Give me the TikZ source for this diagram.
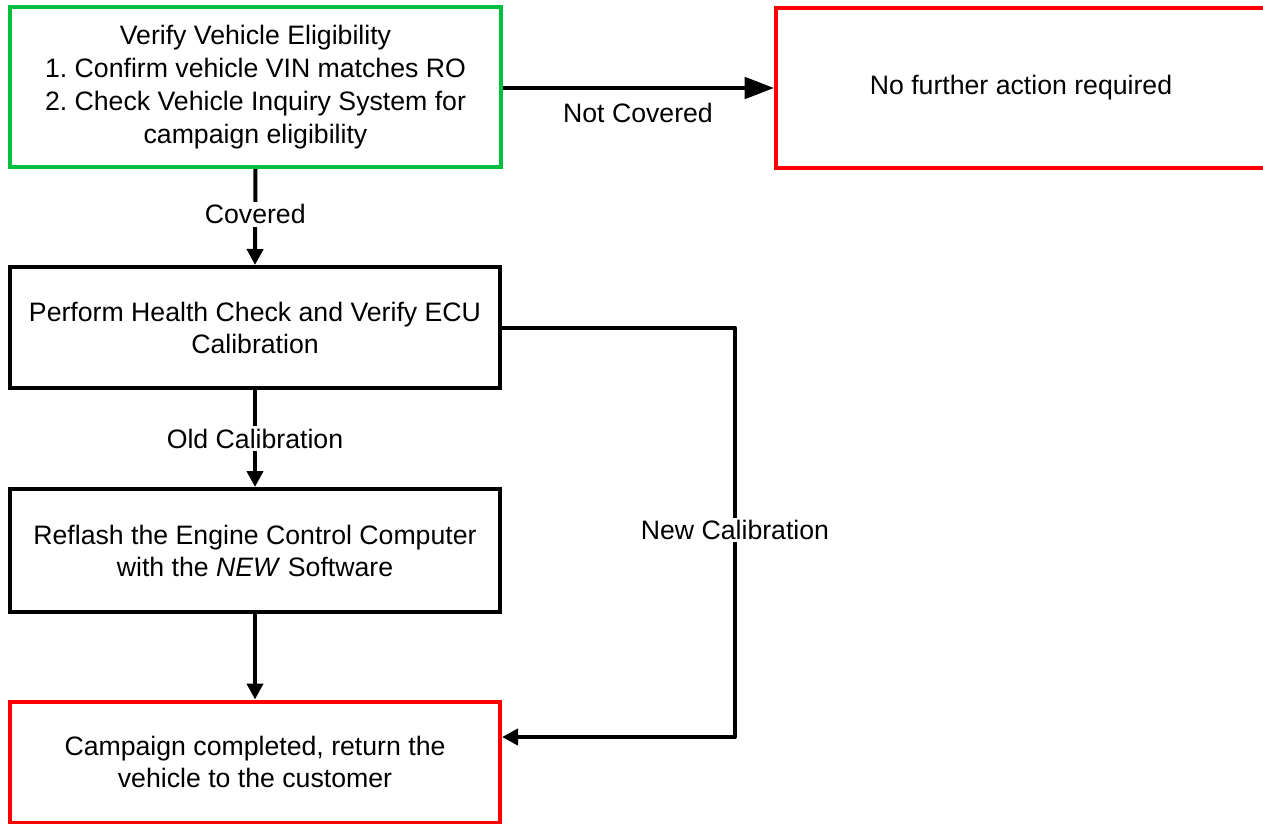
\documentclass[tikz,border=0pt]{standalone}
\usepackage{fontspec}
\setmainfont{Liberation Sans}
\usetikzlibrary{arrows.meta}
\definecolor{boxgreen}{RGB}{0,192,64}
\definecolor{boxred}{RGB}{255,0,0}
\frenchspacing
\begin{document}
\begin{tikzpicture}[x=0.75pt,y=-0.75pt,
  box/.style={draw=black,line width=3pt,align=center,inner sep=0pt,
    minimum width=367.5pt,font=\fontsize{20pt}{24pt}\selectfont},
  greenbox/.style={box,draw=boxgreen,minimum width=368.25pt,minimum height=120pt,
    font=\fontsize{20pt}{24.75pt}\selectfont},
  redbox/.style={box,draw=boxred},
  arr/.style={line width=3pt,-{Triangle[length=12pt,width=12pt]}},
  bigarr/.style={line width=3pt,-{Triangle[length=22pt,width=16pt]}},
  lbl/.style={font=\fontsize{20pt}{24pt}\selectfont,inner sep=2pt},
  lblw/.style={lbl,fill=white}]
\useasboundingbox (0,0) rectangle (1263,824);
\node[greenbox] (b1) at (255.5,87) {Verify Vehicle Eligibility\\1. Confirm vehicle VIN matches RO\\2. Check Vehicle Inquiry System for\\campaign eligibility};
\node[redbox,minimum height=120pt] (b2) at (1021,88) {No further action required};
\node[box,minimum height=90.75pt] (b3) at (255,327.5) {Perform Health Check and Verify ECU\\Calibration};
\node[box,minimum height=92.25pt] (b4) at (255,550.5) {Reflash the Engine Control Computer\\with the \textit{NEW} Software};
\node[redbox,minimum height=90.75pt] (b5) at (255,762) {Campaign completed, return the\\vehicle to the customer};
\draw[bigarr] (b1.east |- b2.west) -- (b2.west);
\node[lbl] (lnot) at (638,113) {Not Covered};
\draw[arr] (b1.south) -- (b3.north) node[pos=0.47,lblw] (lcov) {Covered};
\draw[arr] (b3.south) -- (b4.north) node[midway,lblw] (lold) {Old Calibration};
\draw[arr] (b4.south) -- (b5.north);
\draw[arr,line join=round] (b3.east) -| (735,737) -- ([yshift=18.75pt]b5.east);
\node[lblw] (lnew) at (735,530) {New Calibration};
\end{tikzpicture}
\end{document}
